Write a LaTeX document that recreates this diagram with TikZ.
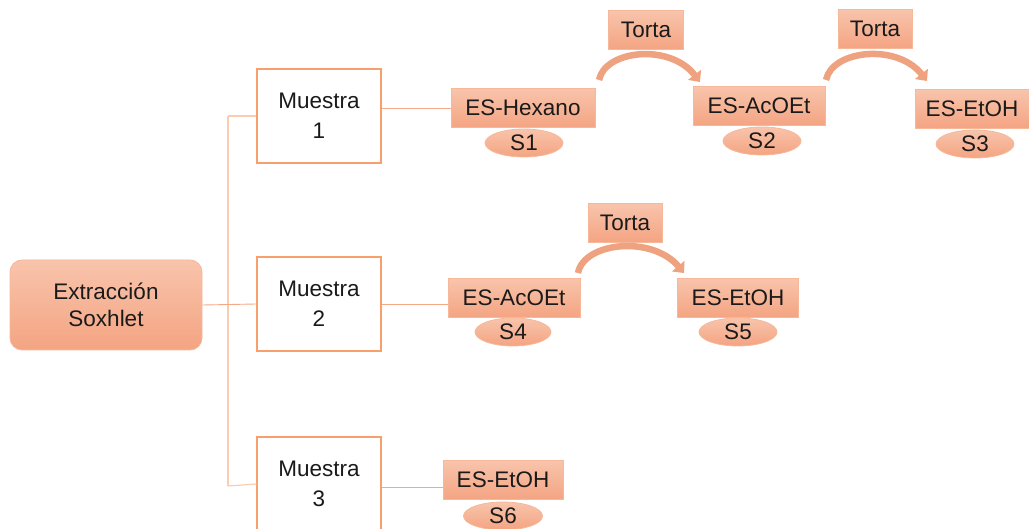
\documentclass[tikz,border=0pt]{standalone}
\usepackage{fontspec}
\setmainfont{Liberation Sans}
\usetikzlibrary{shapes.geometric,arrows.meta}
\definecolor{boxtop}{HTML}{F8C4AC}
\definecolor{boxbot}{HTML}{F4A482}
\definecolor{boxedge}{HTML}{F6B898}
\definecolor{medge}{HTML}{F7A06C}
\definecolor{lineor}{HTML}{F4A886}
\definecolor{linelt}{HTML}{F8CDB2}
\definecolor{arrc}{HTML}{EFA27F}
\definecolor{txt}{HTML}{1A1A1A}
\begin{document}
\begin{tikzpicture}[x=1pt,y=-1pt,
  every node/.style={text=txt,font=\fontsize{22.5}{26}\selectfont,inner sep=0pt},
  solv/.style={draw=boxedge,line width=0.8pt,top color=boxtop,bottom color=boxbot,minimum height=39pt,anchor=center},
  samp/.style={ellipse,draw=boxedge,line width=0.8pt,top color=boxtop,bottom color=boxbot,minimum width=78pt,minimum height=28pt},
  muestra/.style={draw=medge,line width=1.3pt,fill=white,minimum width=124pt,minimum height=94pt,align=center},
  conn/.style={draw=lineor,line width=0.9pt},
  vconn/.style={draw=linelt,line width=1.2pt},
  curv/.style={draw=arrc,line width=6.5pt,-{Triangle[width=16pt,length=9pt]}}]
\useasboundingbox (0,0) rectangle (1029,529);
% main box
\node[draw=boxedge,line width=0.8pt,rounded corners=12pt,top color=boxtop,bottom color=boxbot,
  minimum width=192pt,minimum height=90pt,align=center] (ext) at (106,305) {Extracción\\[1pt]Soxhlet};
% muestras
\node[muestra] (m1) at (319,116) {Muestra\\[4pt]1};
\node[muestra] (m2) at (319,304) {Muestra\\[4pt]2};
\node[muestra] (m3) at (319,484) {Muestra\\[4pt]3};
% tree
\coordinate (vt) at (228,116);
\coordinate (vb) at (228,486);
\draw[vconn] (vt) -- (vb);
\draw[vconn] (vt) -- (m1.west);
\draw[vconn] (vb) -- (m3.west);
\draw[conn] (ext.east) -- (m2.west);
% row 1
\node[solv,minimum width=144pt] (h1) at (523,108) {ES-Hexano};
\node[samp] (s1) at (524,143) {S1};
\node[solv,minimum width=75pt] (t1) at (646,30) {Torta};
\node[solv,minimum width=132pt] (a1) at (759,106) {ES-AcOEt};
\node[samp] (s2) at (762,141) {S2};
\node[solv,minimum width=74pt] (t2) at (875,29) {Torta};
\node[solv,minimum width=114pt] (e1) at (972,109) {ES-EtOH};
\node[samp] (s3) at (975,144) {S3};
\draw[conn] (m1.east |- h1.west) -- (h1.west);
\coordinate (c1s) at (599,80);
\coordinate (c1e) at (700,82);
\draw[curv] (c1s) .. controls (605,50) and (670,43) .. (c1e);
\coordinate (c2s) at (826,80);
\coordinate (c2e) at (927,81);
\draw[curv] (c2s) .. controls (832,50) and (897,43) .. (c2e);
% row 2
\node[solv,minimum width=132pt] (a2) at (514,298) {ES-AcOEt};
\node[samp,minimum width=76pt] (s4) at (513,332) {S4};
\node[solv,minimum width=74pt] (t3) at (625,223) {Torta};
\node[solv,minimum width=121pt] (e2) at (738,298) {ES-EtOH};
\node[samp] (s5) at (738,332) {S5};
\draw[conn] (m2.east) -- (m2.east -| a2.west);
\coordinate (c3s) at (578,273);
\coordinate (c3e) at (684,273);
\draw[curv] (c3s) .. controls (584,242) and (652,235) .. (c3e);
% row 3
\node[solv,minimum width=120pt] (e3) at (503,480) {ES-EtOH};
\node[samp,minimum width=79pt] (s6) at (503,516) {S6};
\draw[conn] (m3.east |- 0,487) -- (e3.west |- 0,487);
\end{tikzpicture}
\end{document}
